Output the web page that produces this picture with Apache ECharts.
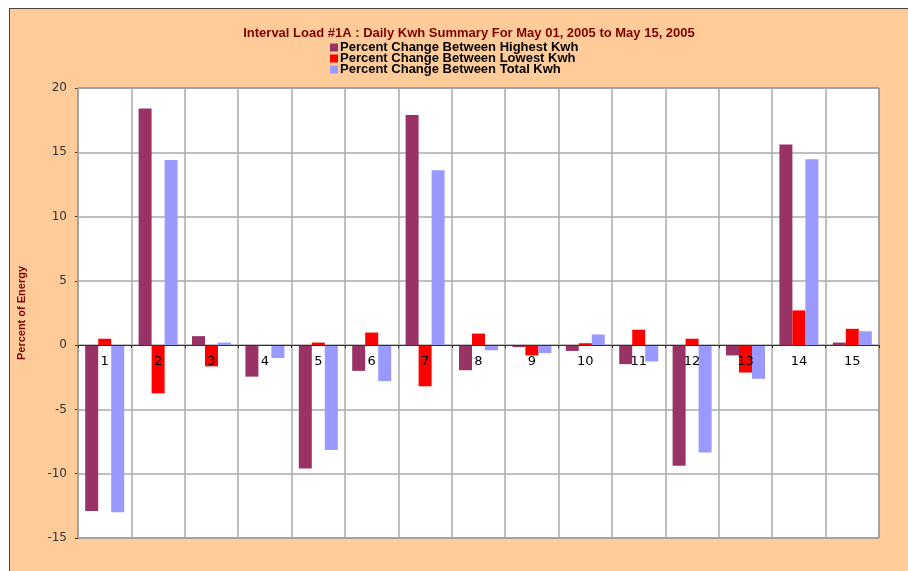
<!DOCTYPE html>
<html>
<head>
<meta charset="utf-8">
<script src="https://cdn.jsdelivr.net/npm/echarts@6/dist/echarts.min.js"></script>
<style>
  html, body { margin: 0; padding: 0; background: #fff; }
  .frame {
    position: absolute; left: 9px; top: 8px; width: 910px; height: 580px;
    background: #ffcc99; border-left: 1px solid #444; border-top: 1px solid #444;
  }
  #chart { position: absolute; left: 0; top: 0; width: 908px; height: 571px; }
</style>
</head>
<body>
<div class="frame"></div>
<div id="chart"></div>
<script>
// days of the month
const days = ['1', '2', '3', '4', '5', '6', '7', '8', '9', '10', '11', '12', '13', '14', '15']
const seriesNames = [
  'Percent Change Between Highest Kwh',
  'Percent Change Between Lowest Kwh',
  'Percent Change Between Total Kwh'
]
const highestKwh = [-12.9, 18.4, 0.7, -2.45, -9.6, -2.0, 17.9, -1.95, -0.15, -0.45, -1.48, -9.38, -0.8, 15.6, 0.2]
const lowestKwh = [0.5, -3.75, -1.65, 0, 0.2, 0.98, -3.2, 0.9, -0.8, 0.15, 1.2, 0.5, -2.13, 2.7, 1.27]
const totalKwh = [-13.0, 14.4, 0.2, -1.0, -8.15, -2.8, 13.6, -0.4, -0.62, 0.83, -1.27, -8.35, -2.62, 14.45, 1.08]
const colors = ['#993366', '#ff0000', '#9999ff']

const yMin = -15
const yMax = 20
const gridTop = 88
const gridBottom = 33
const plotH = 571 - gridTop - gridBottom
// the category axis sits on the zero line, labels too
const zeroOffset = -plotH * (0 - yMin) / (yMax - yMin)

const chart = echarts.init(document.getElementById('chart'))

function bar (name, data, color) {
  return {
    name,
    type: 'bar',
    data,
    barWidth: 13,
    barGap: '0%',
    itemStyle: { color },
    emphasis: { disabled: true }
  }
}

chart.setOption({
  animation: false,
  textStyle: { fontFamily: 'DejaVu Sans' },
  title: {
    text: 'Interval Load #1A : Daily Kwh Summary For May 01, 2005 to May 15, 2005',
    left: 464,
    textAlign: 'center',
    top: 22,
    textStyle: {
      color: '#800000',
      fontSize: 13,
      fontWeight: 'bold',
      fontFamily: 'Liberation Sans'
    }
  },
  legend: {
    data: seriesNames,
    orient: 'vertical',
    left: 330,
    top: 41,
    padding: 0,
    itemGap: -2,
    itemWidth: 8,
    itemHeight: 8,
    icon: 'rect',
    textStyle: {
      color: '#000',
      fontSize: 13,
      fontWeight: 'bold',
      fontFamily: 'Liberation Sans',
      padding: [0, 0, 0, -3],
      lineHeight: 11
    }
  },
  grid: {
    left: 78,
    right: 29,
    top: gridTop,
    bottom: gridBottom,
    show: true,
    backgroundColor: '#fff',
    borderColor: '#333',
    borderWidth: 1
  },
  xAxis: {
    type: 'category',
    data: days,
    offset: zeroOffset,
    z: 5,
    axisLine: { onZero: false, lineStyle: { color: '#333' } },
    axisTick: { show: true, length: 3, lineStyle: { color: '#333' } },
    axisLabel: { color: '#000', fontSize: 13, margin: 10, interval: 0 },
    splitLine: { show: true, interval: 0, lineStyle: { color: '#aaa', width: 1.5 } }
  },
  yAxis: {
    type: 'value',
    min: yMin,
    max: yMax,
    interval: 5,
    name: 'Percent of Energy',
    nameLocation: 'middle',
    nameGap: 51,
    nameTextStyle: {
      color: '#800000',
      fontSize: 11,
      fontWeight: 'bold',
      fontFamily: 'Liberation Sans'
    },
    axisLine: { show: false },
    axisTick: { show: true, length: 3, lineStyle: { color: '#333' } },
    axisLabel: { color: '#333', fontSize: 12, margin: 11 },
    splitLine: { show: true, lineStyle: { color: '#aaa', width: 1.5 } }
  },
  series: [
    bar(seriesNames[0], highestKwh, colors[0]),
    bar(seriesNames[1], lowestKwh, colors[1]),
    bar(seriesNames[2], totalKwh, colors[2])
  ]
})
</script>
</body>
</html>
